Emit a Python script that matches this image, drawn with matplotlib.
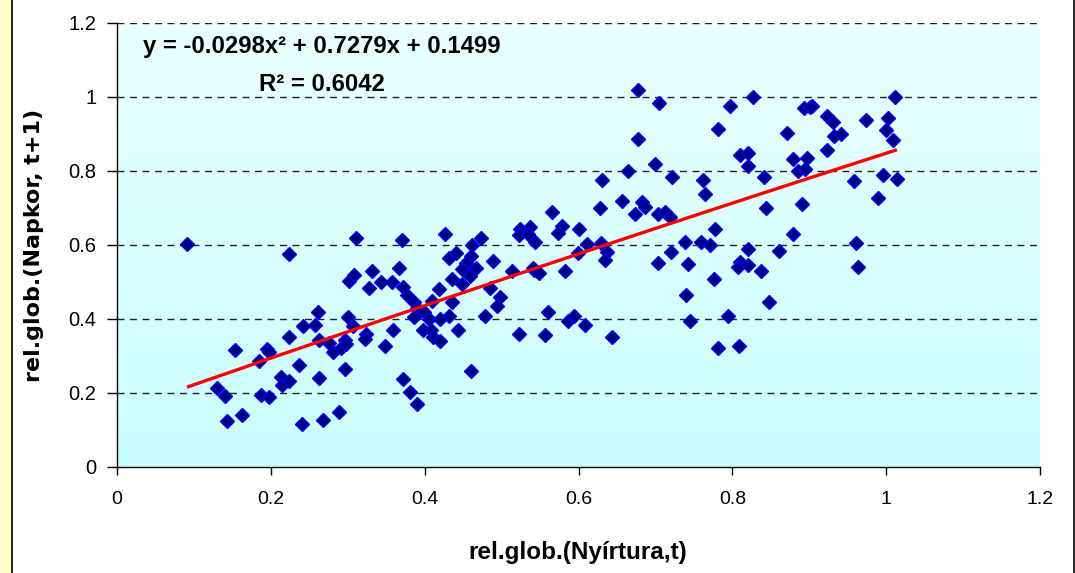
import numpy as np
import matplotlib
matplotlib.use("Agg")
import matplotlib.pyplot as plt
from matplotlib import font_manager
from matplotlib.patches import Rectangle
from matplotlib.lines import Line2D

# ---- data ----
x_vals = [0.091, 0.224, 0.261, 0.258, 0.263, 0.154, 0.195, 0.198, 0.224, 0.242,
          0.185, 0.236, 0.213, 0.215, 0.223, 0.263, 0.130, 0.140, 0.187, 0.197,
          0.143, 0.163, 0.240, 0.268,
          0.311, 0.370, 0.427, 0.473, 0.462, 0.524, 0.537, 0.523, 0.534, 0.544,
          0.432, 0.441, 0.460, 0.454, 0.449, 0.467, 0.459, 0.489, 0.513, 0.542,
          0.302, 0.308, 0.332, 0.328, 0.343, 0.357, 0.366, 0.372, 0.377, 0.386,
          0.390, 0.399, 0.386, 0.406, 0.410, 0.419, 0.436, 0.448, 0.436, 0.485,
          0.498, 0.494, 0.479, 0.432, 0.420, 0.398, 0.408, 0.411, 0.420, 0.443,
          0.359, 0.348, 0.324, 0.322, 0.300, 0.307, 0.276, 0.281, 0.291, 0.296,
          0.298, 0.297, 0.372, 0.381, 0.390, 0.289, 0.460, 0.522,
          0.678, 0.705, 0.797, 0.827, 0.782, 0.678, 0.810, 0.820, 0.820, 0.665,
          0.700, 0.630, 0.722, 0.762, 0.764, 0.628, 0.657, 0.683, 0.686, 0.674,
          0.703, 0.713, 0.719, 0.566, 0.579, 0.573, 0.600, 0.611, 0.629, 0.637,
          0.635, 0.599, 0.582, 0.541, 0.549, 0.703, 0.743, 0.720, 0.738, 0.759,
          0.771, 0.778, 0.821, 0.810, 0.808, 0.821, 0.776,
          0.560, 0.557, 0.586, 0.594, 0.609, 0.644, 0.740, 0.745, 0.795, 0.782,
          0.809,
          0.893, 0.903, 0.901, 0.923, 0.931, 0.974, 1.011, 1.003, 1.000, 1.009,
          0.871, 0.932, 0.941, 0.923, 0.879, 0.897, 0.886, 0.895, 0.841, 0.958,
          0.996, 1.014, 0.989, 0.844, 0.890, 0.879, 0.961, 0.963, 0.861, 0.837,
          0.848]
y_vals = [0.603, 0.575, 0.420, 0.384, 0.343, 0.317, 0.318, 0.312, 0.351, 0.381,
          0.287, 0.275, 0.243, 0.221, 0.232, 0.241, 0.213, 0.193, 0.194, 0.188,
          0.123, 0.141, 0.117, 0.127,
          0.618, 0.613, 0.629, 0.620, 0.600, 0.643, 0.648, 0.627, 0.631, 0.609,
          0.566, 0.578, 0.570, 0.552, 0.535, 0.537, 0.516, 0.557, 0.530, 0.532,
          0.504, 0.519, 0.529, 0.484, 0.500, 0.500, 0.537, 0.486, 0.464, 0.445,
          0.429, 0.420, 0.406, 0.400, 0.450, 0.480, 0.507, 0.494, 0.447, 0.483,
          0.460, 0.436, 0.408, 0.408, 0.399, 0.370, 0.370, 0.352, 0.341, 0.370,
          0.371, 0.328, 0.359, 0.345, 0.405, 0.381, 0.334, 0.312, 0.321, 0.343,
          0.332, 0.266, 0.237, 0.204, 0.170, 0.148, 0.260, 0.360,
          1.019, 0.985, 0.976, 0.999, 0.914, 0.886, 0.843, 0.848, 0.814, 0.800,
          0.818, 0.776, 0.785, 0.776, 0.738, 0.700, 0.718, 0.715, 0.703, 0.685,
          0.685, 0.688, 0.676, 0.689, 0.652, 0.632, 0.642, 0.604, 0.606, 0.581,
          0.559, 0.579, 0.531, 0.537, 0.523, 0.552, 0.548, 0.580, 0.609, 0.609,
          0.600, 0.642, 0.589, 0.555, 0.540, 0.546, 0.508,
          0.418, 0.356, 0.394, 0.408, 0.384, 0.351, 0.466, 0.395, 0.408, 0.322,
          0.327,
          0.969, 0.976, 0.974, 0.949, 0.932, 0.937, 0.999, 0.942, 0.912, 0.884,
          0.904, 0.895, 0.900, 0.857, 0.832, 0.836, 0.800, 0.805, 0.785, 0.772,
          0.789, 0.779, 0.728, 0.699, 0.712, 0.631, 0.605, 0.541, 0.585, 0.531,
          0.446]

# trendline coefficients (as printed on the chart)
coef_a, coef_b, coef_c = -0.0298, 0.7279, 0.1499
eq_text = "y = -0.0298x² + 0.7279x + 0.1499"
r2_text = "R² = 0.6042"

x_ticks = [0, 0.2, 0.4, 0.6, 0.8, 1, 1.2]
x_ticklabels = ["0", "0.2", "0.4", "0.6", "0.8", "1", "1.2"]
y_ticks = [0, 0.2, 0.4, 0.6, 0.8, 1, 1.2]
y_ticklabels = ["0", "0.2", "0.4", "0.6", "0.8", "1", "1.2"]
x_label = "rel.glob.(Nyírtura,t)"
y_label = "rel.glob.(Napkor, t+1)"

# ---- fonts ----
avail = {f.name for f in font_manager.fontManager.ttflist}
base_font = "Liberation Sans" if "Liberation Sans" in avail else "DejaVu Sans"
plt.rcParams['font.family'] = [base_font, 'DejaVu Sans']

W, H = 1075, 573
fig = plt.figure(figsize=(W / 100, H / 100), dpi=100)
fig.patch.set_facecolor("white")

# left pale-yellow strip with dark border, right border line
fig.patches.append(Rectangle((0, 0), 11 / W, 1, transform=fig.transFigure,
                             facecolor="#ffffcc", edgecolor="none", zorder=0))
fig.lines.append(Line2D([11.5 / W, 11.5 / W], [0, 1], transform=fig.transFigure,
                        color="black", lw=1.2))
fig.lines.append(Line2D([1073.5 / W, 1073.5 / W], [0, 1], transform=fig.transFigure,
                        color="black", lw=1.2))

ax = fig.add_axes([117 / W, 1 - 467 / H, (1040 - 117) / W, (467 - 23) / H])
ax.set_xlim(0, 1.2)
ax.set_ylim(0, 1.2)

# gradient background
grad = np.linspace(0, 1, 256).reshape(-1, 1)
top = np.array([0.92, 1.0, 1.0])
bot = np.array([0.79, 1.0, 1.0])
img = top[None, None, :] * (1 - grad[:, :, None]) + bot[None, None, :] * grad[:, :, None]
ax.imshow(img, extent=[0, 1.2, 0, 1.2], aspect="auto", zorder=0, origin="upper")
ax.set_facecolor("none")

# gridlines
for yv in y_ticks[1:]:
    ax.axhline(yv, color="#222222", lw=1.0, linestyle=(0, (5, 4)), zorder=1)

# scatter
ax.plot(x_vals, y_vals, linestyle="none", marker="D", markersize=6.8,
        markerfacecolor="#000080", markeredgecolor="#0000ff", markeredgewidth=1.0,
        zorder=3)

# trendline
xs = np.sort(np.array(x_vals))
ys = coef_a * xs ** 2 + coef_b * xs + coef_c
ax.plot(xs, ys, color="#ff0000", lw=2.4, zorder=4, solid_capstyle="butt")

# spines / ticks
for s in ["top", "right"]:
    ax.spines[s].set_visible(False)
for s in ["left", "bottom"]:
    ax.spines[s].set_color("black")
    ax.spines[s].set_linewidth(1.0)
    ax.spines[s].set_zorder(5)

ax.set_xticks(x_ticks)
ax.set_xticklabels(x_ticklabels, fontsize=14)
ax.set_yticks(y_ticks)
ax.set_yticklabels(y_ticklabels, fontsize=14.5)
ax.tick_params(axis="x", direction="out", length=6, width=1, pad=11, colors="black")
ax.tick_params(axis="y", direction="out", length=7, width=1, pad=8, colors="black")

ax.set_xlabel(x_label, fontsize=17.5, fontweight="bold")
ax.xaxis.label.set_va("center")
ax.xaxis.set_label_coords(0.499, (467 - 553) / 444)

ax.set_ylabel(y_label, fontsize=16, fontweight="bold", family=["DejaVu Sans"])
ax.yaxis.label.set_va("center")
ax.yaxis.set_label_coords((34.5 - 117) / 923, 0.5)

# equation text
ax.text((322 - 117) / (1040 - 117) * 1.2, (467 - 47) / 444 * 1.2, eq_text,
        fontsize=17.2, fontweight="bold", ha="center", va="center", zorder=6)
ax.text((322 - 117) / (1040 - 117) * 1.2, (467 - 84) / 444 * 1.2, r2_text,
        fontsize=17.2, fontweight="bold", ha="center", va="center", zorder=6)

fig.savefig("out.png", dpi=100)
